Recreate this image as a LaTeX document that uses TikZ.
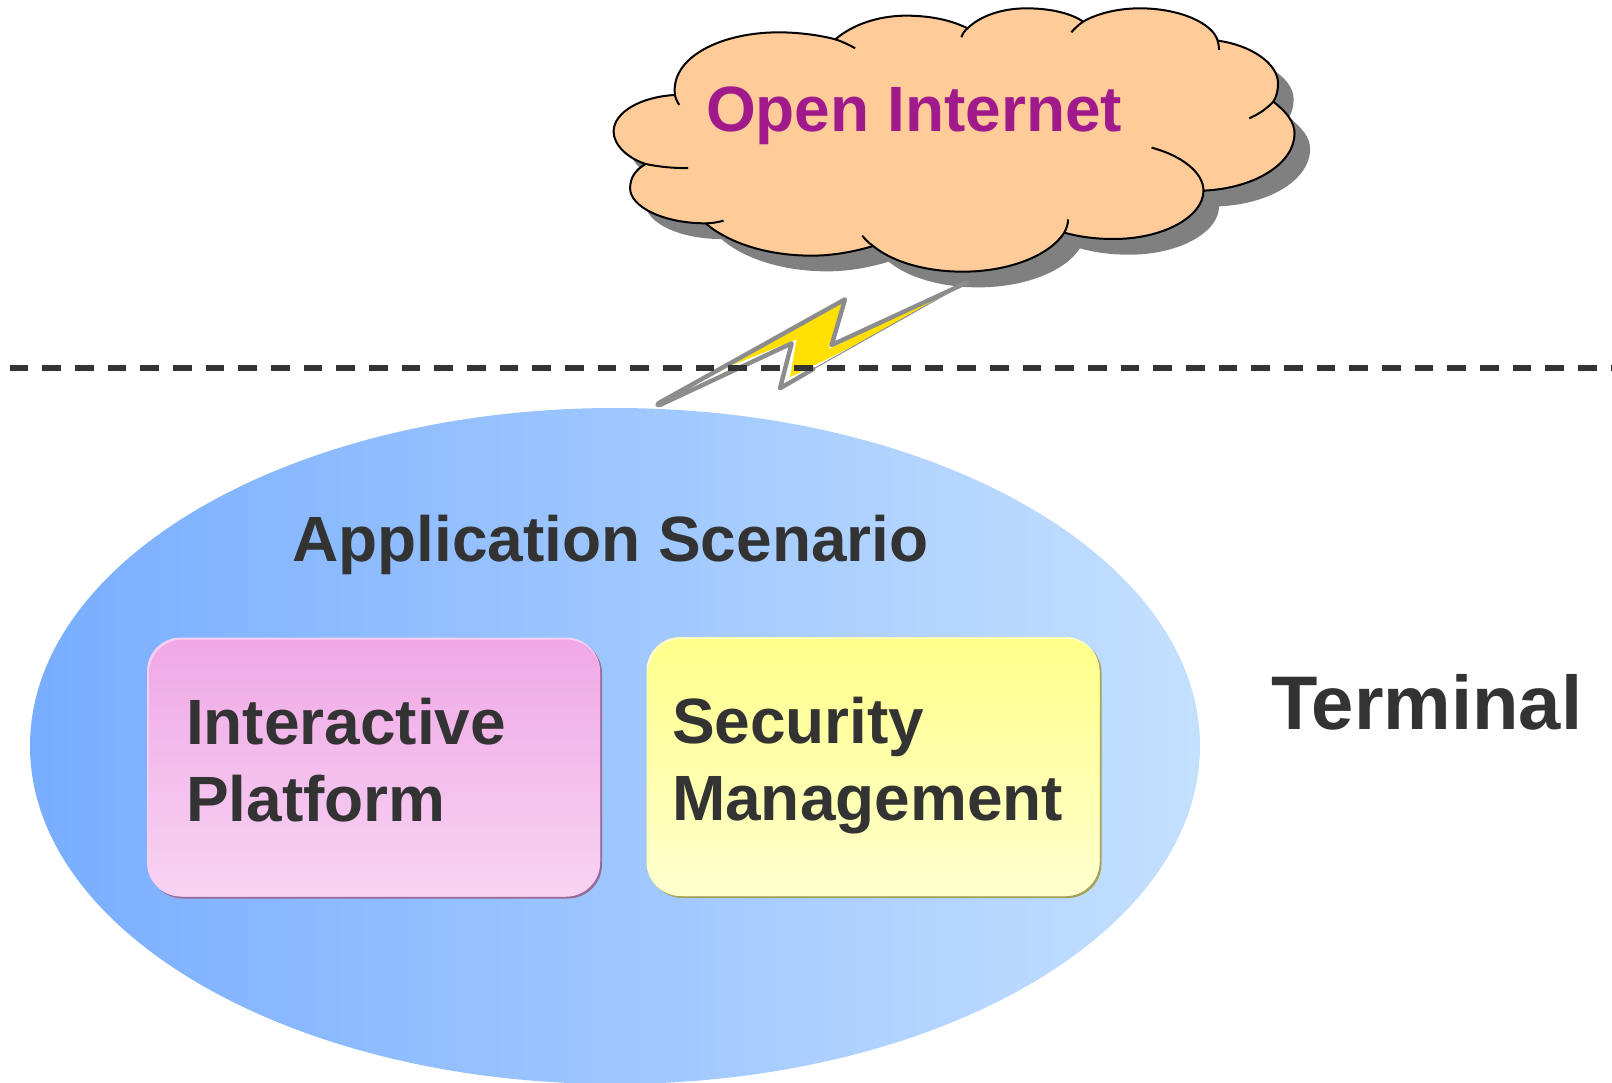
\documentclass[tikz,border=0pt]{standalone}
\usepackage{fontspec}
\setmainfont{Liberation Sans}
\usetikzlibrary{shapes.geometric}
\definecolor{txt}{HTML}{333333}
\definecolor{cloudfill}{HTML}{FFCC99}
\definecolor{shadowgray}{HTML}{808080}
\definecolor{inetpurple}{HTML}{A01A8C}
\definecolor{boltgray}{HTML}{8C8C8C}
\definecolor{boltyellow}{HTML}{FFE000}
\definecolor{ellL}{HTML}{78ADFF}
\definecolor{ellR}{HTML}{C4E0FF}
\definecolor{pinkT}{HTML}{F0A8E6}
\definecolor{pinkB}{HTML}{F7D3F3}
\definecolor{pinkEdge}{HTML}{9A6A96}
\definecolor{pinkLight}{HTML}{F8CFF2}
\definecolor{yelT}{HTML}{FFFF8A}
\definecolor{yelB}{HTML}{FFFFCE}
\definecolor{yelEdge}{HTML}{A3A35A}
\definecolor{yelLight}{HTML}{FFFFC0}
\tikzset{
  labeltext/.style={font=\bfseries\fontsize{64}{77}\selectfont,text=txt,inner sep=0pt,outer sep=0pt},
  boxlabel/.style={labeltext,align=left,anchor=west},
  softbox/.style={rectangle,rounded corners=34pt,minimum width=453pt,minimum height=259pt,inner sep=0pt,outer sep=0pt},
  cloudline/.style={draw=black,line width=2pt},
}
\newcommand{\cloudoutline}{(180,285) .. controls (170,170) and (280,97) .. (400,97) .. controls (440,97) and (485,105) .. (520,118)
 .. controls (555,75) and (610,47) .. (670,47) .. controls (720,47) and (765,60) .. (800,85)
 .. controls (825,50) and (870,25) .. (925,25) .. controls (975,25) and (1020,40) .. (1045,65)
 .. controls (1075,40) and (1120,25) .. (1165,25) .. controls (1250,25) and (1320,70) .. (1330,122)
 .. controls (1400,135) and (1458,190) .. (1458,250) .. controls (1458,270) and (1455,290) .. (1448,305)
 .. controls (1475,335) and (1493,365) .. (1493,400) .. controls (1493,490) and (1410,565) .. (1300,572)
 .. controls (1300,650) and (1215,717) .. (1110,717) .. controls (1070,717) and (1035,710) .. (1005,698)
 .. controls (975,765) and (890,815) .. (790,815) .. controls (710,815) and (640,785) .. (600,738)
 .. controls (560,755) and (515,767) .. (470,767) .. controls (370,767) and (290,725) .. (245,670)
 .. controls (155,670) and (85,620) .. (85,565) .. controls (85,535) and (95,510) .. (118,492)
 .. controls (80,475) and (50,435) .. (50,395) .. controls (50,335) and (110,290) .. (180,285) -- cycle}
\begin{document}
\begin{tikzpicture}[x=1pt,y=-1pt]
\useasboundingbox (0,0) rectangle (1612,1083);
% ellipse
\node[ellipse,minimum width=1170pt,minimum height=676pt,inner sep=0pt,outer sep=0pt,left color=ellL,right color=ellR,draw=none] (scenario) at (615,746) {};
% cloud
\begin{scope}[shift={(590pt,0pt)},x=0.4719pt,y=-0.33333pt]
  \begin{scope}[shift={(15.6pt,-15.7pt)}]
    \fill[shadowgray] \cloudoutline;
  \end{scope}
  \fill[cloudfill] \cloudoutline;
  \draw[cloudline,line join=round] \cloudoutline;
  \draw[cloudline]
    (520,118) .. controls (535,125) and (550,135) .. (562,145)
    (800,85) .. controls (793,93) and (789,103) .. (787,112)
    (1045,65) .. controls (1035,75) and (1027,85) .. (1020,97)
    (1330,122) .. controls (1332,132) and (1333,140) .. (1333,150)
    (1448,305) .. controls (1435,325) and (1418,342) .. (1397,355)
    (1190,443) .. controls (1250,465) and (1300,515) .. (1300,572)
    (1005,698) .. controls (1010,685) and (1013,672) .. (1013,658)
    (600,738) .. controls (590,728) and (583,718) .. (577,707)
    (245,670) .. controls (258,670) and (270,667) .. (283,662)
    (118,492) .. controls (145,500) and (175,505) .. (208,504)
    (180,285) .. controls (181,295) and (185,305) .. (189,315);
\end{scope}
% bolt
\begin{scope}[shift={(640pt,-270pt)},x=0.33333pt,y=-0.33333pt]
  \fill[white] (55,403) -- (615,85) -- (575,225) -- (985,35) -- (420,355) -- (460,215) -- cycle;
  \fill[boltyellow] (270,288) -- (605,97) -- (567,237) -- (960,48) -- (640,228) -- (450,322) -- (470,208) -- cycle;
  \draw[yellow!40!white,line width=0.6pt] (90,383) -- (270,288);
  \draw[boltgray,line width=1pt] (520,297) -- (985,35);
  \draw[boltgray,line width=4.4pt,line join=round,line cap=round]
    (980,38) -- (575,225) -- (615,88) -- (60,397) .. controls (50,403) and (50,407) .. (62,404) -- (455,220) -- (420,355) -- (520,297);
\end{scope}
% dashed line
\coordinate (dashL) at (9.5,368);
\coordinate (dashR) at (1612,368);
\draw[txt,line width=5.4pt,dash pattern=on 18.7pt off 13.98pt] (dashL) -- (dashR);
% boxes
\node[softbox,fill=pinkEdge] (pinkedge) at (375.5,769) {};
\node[softbox,fill=pinkLight] (pinklight) at (373.5,767) {};
\node[softbox,top color=pinkT,bottom color=pinkB,minimum width=451pt,minimum height=257pt] (platform) at (374.5,768) {};
\node[softbox,fill=yelEdge] (yeledge) at (875,768.5) {};
\node[softbox,fill=yelLight] (yellight) at (873,766.5) {};
\node[softbox,top color=yelT,bottom color=yelB,minimum width=451pt,minimum height=257pt] (security) at (874,767.5) {};
% labels
\node[labeltext,anchor=base west,text=inetpurple] (inet) at (706,132) {Open Internet};
\node[labeltext,anchor=base west] (apptitle) at (292,561) {Application Scenario};
\node[labeltext,anchor=base west,font=\bfseries\fontsize{76}{90}\selectfont] (terminal) at (1271,729) {Terminal};
\node[boxlabel] (platformtxt) at (186,760) {Interactive\\Platform};
\node[boxlabel] (securitytxt) at (672,766) {Security\\Management};
\end{tikzpicture}
\end{document}
